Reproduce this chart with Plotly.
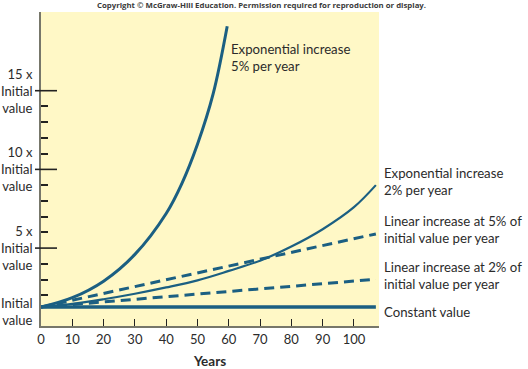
import plotly.graph_objects as go

# ---- data ----
exp5_years = [0, 10, 20, 30, 40, 45, 50, 55, 59.5]
exp5_values = [1.25, 1.85, 2.9, 4.6, 7.2, 9.1, 11.6, 14.8, 19.1]

exp2_years = [0, 10, 20, 30, 40, 50, 60, 70, 80, 90, 100, 107]
exp2_values = [1.25, 1.45, 1.75, 2.1, 2.5, 2.95, 3.55, 4.2, 5.1, 6.2, 7.6, 9.0]

lin5_years = [0, 107]
lin5_values = [1.25, 5.9]

lin2_years = [0, 107]
lin2_values = [1.25, 3.02]

const_years = [0, 107]
const_values = [1.25, 1.25]

x_ticks = [0, 10, 20, 30, 40, 50, 60, 70, 80, 90, 100]
y_tickvals = [1, 5, 10, 15]
y_ticktext = ["Initial<br>value", "5 x<br>Initial<br>value", "10 x<br>Initial<br>value", "15 x<br>Initial<br>value"]
y_minor = [2, 3, 4, 6, 7, 8, 9, 11, 12, 13, 14]
y_major_marks = [5, 10, 15]

labels_right = [
    ("Exponential increase<br>2% per year", 9.2),
    ("Linear increase at 5% of<br>initial value per year", 6.2),
    ("Linear increase at 2% of<br>initial value per year", 3.23),
    ("Constant value", 0.95),
]

COL = "#1b5f82"
FONT = "Lato"
TXT = "#2b2b2b"
PW = 338.0

fig = go.Figure()
fig.add_trace(go.Scatter(x=exp5_years, y=exp5_values, mode="lines",
                         line=dict(color=COL, width=3, shape="spline", smoothing=1.0)))
fig.add_trace(go.Scatter(x=exp2_years, y=exp2_values, mode="lines",
                         line=dict(color=COL, width=2.2, shape="spline", smoothing=1.0)))
fig.add_trace(go.Scatter(x=lin5_years, y=lin5_values, mode="lines",
                         line=dict(color=COL, width=3, dash="10px,6px")))
fig.add_trace(go.Scatter(x=lin2_years, y=lin2_values, mode="lines",
                         line=dict(color=COL, width=3, dash="10px,6px")))
fig.add_trace(go.Scatter(x=const_years, y=const_values, mode="lines",
                         line=dict(color=COL, width=3.5)))

shapes = []
for v in y_major_marks:
    shapes.append(dict(type="line", xref="paper", yref="y", x0=-6 / PW, x1=16 / PW,
                       y0=v, y1=v, line=dict(color="#222222", width=1.6), layer="above"))

annotations = [
    dict(text="Copyright © McGraw-Hill Education. Permission required for reproduction or display.",
         xref="paper", yref="paper", x=(261 - 41) / PW, y=1 + 7 / 314, xanchor="center", yanchor="middle",
         showarrow=False, font=dict(family="Open Sans", size=7.8, color="#3a3a3a", weight="bold")),
    dict(text="Exponential increase<br>5% per year", xref="paper", yref="y", x=(229 - 41) / PW, y=17.1,
         xanchor="left", yanchor="middle", align="left", showarrow=False,
         font=dict(family=FONT, size=13.2, color=TXT)),
]
for txt, yv in labels_right:
    annotations.append(dict(text=txt, xref="paper", yref="y", x=(382 - 41) / PW, y=yv,
                            xanchor="left", yanchor="middle", align="left", showarrow=False,
                            font=dict(family=FONT, size=13.2, color=TXT)))
for txt, yv in zip(y_ticktext, y_tickvals):
    annotations.append(dict(text=txt, xref="paper", yref="y", x=(35 - 41) / PW, y=yv,
                            xanchor="right", yanchor="middle", align="right", showarrow=False,
                            font=dict(family=FONT, size=13, color=TXT)))

fig.update_layout(
    width=528, height=369,
    margin=dict(l=41, r=149, t=12, b=43),
    paper_bgcolor="white", plot_bgcolor="#fff8c6",
    showlegend=False,
    shapes=shapes, annotations=annotations,
    xaxis=dict(range=[0, 108], tickvals=x_ticks, ticks="inside", ticklen=7, tickwidth=1.3,
               tickcolor="#222222", showline=True, linecolor="#77776a", linewidth=2,
               showgrid=False, zeroline=False, automargin=False,
               tickfont=dict(family=FONT, size=13, color=TXT),
               title=dict(text="<b>Years</b>", font=dict(family=FONT, size=13.5, color=TXT), standoff=14)),
    yaxis=dict(range=[0.05, 20], tickvals=[], showticklabels=False, ticks="",
               showline=True, linecolor="#77776a", linewidth=2, showgrid=False, zeroline=False,
               automargin=False,
               minor=dict(tickvals=y_minor, ticks="inside", ticklen=7, tickwidth=1.5,
                          tickcolor="#222222", showgrid=False)),
)

fig.write_html("out.html", config={"displayModeBar": False},
               post_script="document.body.style.margin='0';document.body.style.padding='0';")
